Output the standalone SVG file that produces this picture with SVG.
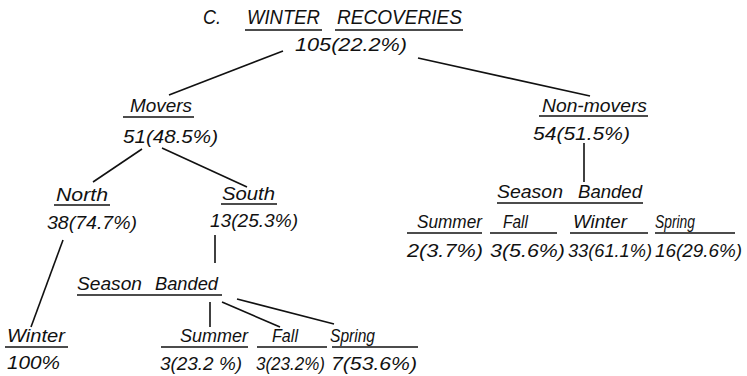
<svg xmlns="http://www.w3.org/2000/svg" width="747" height="376" viewBox="0 0 747 376">
<style>
text{font-family:"Liberation Sans","DejaVu Sans",sans-serif;font-style:italic;font-size:18px;fill:#111}
.t{font-size:20px}
.u{stroke:#111;stroke-width:1.6;fill:none}
.c line{stroke:#111;stroke-width:1.6}
</style>
<rect width="747" height="376" fill="#fff"/>
<g id="root">
<text class="t" x="203" y="24" textLength="18" lengthAdjust="spacingAndGlyphs">C.</text>
<text class="t" x="247" y="24" textLength="73" lengthAdjust="spacingAndGlyphs">WINTER</text>
<text class="t" x="337" y="24" textLength="125" lengthAdjust="spacingAndGlyphs">RECOVERIES</text>
<line class="u" x1="245" y1="30" x2="322" y2="30"/>
<line class="u" x1="335" y1="30" x2="463" y2="30"/>
<text x="295" y="51" textLength="112" lengthAdjust="spacingAndGlyphs">105(22.2%)</text>
</g>
<g id="movers">
<text x="130" y="112" textLength="62" lengthAdjust="spacingAndGlyphs">Movers</text>
<line class="u" x1="123" y1="117" x2="194" y2="117"/>
<text x="123" y="143" textLength="95" lengthAdjust="spacingAndGlyphs">51(48.5%)</text>
</g>
<g id="nonmovers">
<text x="542" y="112" textLength="105" lengthAdjust="spacingAndGlyphs">Non-movers</text>
<line class="u" x1="539" y1="116" x2="648" y2="116"/>
<text x="533" y="140" textLength="97" lengthAdjust="spacingAndGlyphs">54(51.5%)</text>
</g>
<g id="north">
<text x="56" y="201" textLength="52" lengthAdjust="spacingAndGlyphs">North</text>
<line class="u" x1="54" y1="205" x2="110" y2="205"/>
<text x="47" y="229" textLength="90" lengthAdjust="spacingAndGlyphs">38(74.7%)</text>
</g>
<g id="south">
<text x="222" y="200" textLength="53" lengthAdjust="spacingAndGlyphs">South</text>
<line class="u" x1="221" y1="204" x2="277" y2="204"/>
<text x="210" y="227" textLength="88" lengthAdjust="spacingAndGlyphs">13(25.3%)</text>
</g>
<g id="winter-north">
<text x="7" y="342" textLength="58" lengthAdjust="spacingAndGlyphs">Winter</text>
<line class="u" x1="5" y1="347" x2="68" y2="347"/>
<text x="7" y="369" textLength="53" lengthAdjust="spacingAndGlyphs">100%</text>
</g>
<g id="season-banded-south">
<text x="77" y="290" textLength="65" lengthAdjust="spacingAndGlyphs">Season</text>
<text x="155" y="290" textLength="63" lengthAdjust="spacingAndGlyphs">Banded</text>
<line class="u" x1="77" y1="295" x2="222" y2="295"/>
</g>
<g id="south-summer">
<text x="180" y="342" textLength="68" lengthAdjust="spacingAndGlyphs">Summer</text>
<line class="u" x1="161" y1="347" x2="248" y2="347"/>
<text x="160" y="370" textLength="82" lengthAdjust="spacingAndGlyphs">3(23.2 %)</text>
</g>
<g id="south-fall">
<text x="272" y="342" textLength="26" lengthAdjust="spacingAndGlyphs">Fall</text>
<line class="u" x1="257" y1="347" x2="327" y2="347"/>
<text x="256" y="370" textLength="69" lengthAdjust="spacingAndGlyphs">3(23.2%)</text>
</g>
<g id="south-spring">
<text x="330" y="342" textLength="45" lengthAdjust="spacingAndGlyphs">Spring</text>
<line class="u" x1="332" y1="347" x2="418" y2="347"/>
<text x="331" y="370" textLength="86" lengthAdjust="spacingAndGlyphs">7(53.6%)</text>
</g>
<g id="season-banded-non">
<text x="497" y="198" textLength="66" lengthAdjust="spacingAndGlyphs">Season</text>
<text x="578" y="198" textLength="64" lengthAdjust="spacingAndGlyphs">Banded</text>
<line class="u" x1="497" y1="203" x2="643" y2="203"/>
</g>
<g id="non-summer">
<text x="417" y="228" textLength="65" lengthAdjust="spacingAndGlyphs">Summer</text>
<line class="u" x1="407" y1="233" x2="482" y2="233"/>
<text x="407" y="257" textLength="76" lengthAdjust="spacingAndGlyphs">2(3.7%)</text>
</g>
<g id="non-fall">
<text x="503" y="228" textLength="25" lengthAdjust="spacingAndGlyphs">Fall</text>
<line class="u" x1="490" y1="233" x2="557" y2="233"/>
<text x="490" y="257" textLength="75" lengthAdjust="spacingAndGlyphs">3(5.6%)</text>
</g>
<g id="non-winter">
<text x="573" y="228" textLength="54" lengthAdjust="spacingAndGlyphs">Winter</text>
<line class="u" x1="570" y1="233" x2="648" y2="233"/>
<text x="568" y="257" textLength="84" lengthAdjust="spacingAndGlyphs">33(61.1%)</text>
</g>
<g id="non-spring">
<text x="655" y="228" textLength="40" lengthAdjust="spacingAndGlyphs">Spring</text>
<line class="u" x1="655" y1="233" x2="735" y2="233"/>
<text x="655" y="257" textLength="87" lengthAdjust="spacingAndGlyphs">16(29.6%)</text>
</g>
<g id="connectors" class="c">
<line x1="283" y1="51" x2="169" y2="95"/>
<line x1="418" y1="58" x2="590" y2="96"/>
<line x1="142" y1="149" x2="93" y2="182"/>
<line x1="162" y1="148" x2="247" y2="187"/>
<line x1="584" y1="143" x2="584" y2="182"/>
<line x1="63" y1="240" x2="31" y2="327"/>
<line x1="215" y1="235" x2="215" y2="263"/>
<line x1="210" y1="302" x2="210" y2="327"/>
<line x1="222" y1="302" x2="280" y2="327"/>
<line x1="237" y1="299" x2="334" y2="324"/>
</g>
</svg>
